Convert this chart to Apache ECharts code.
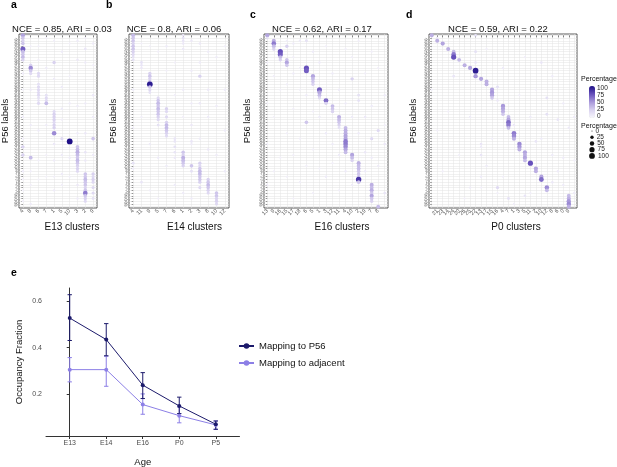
<!DOCTYPE html>
<html>
<head>
<meta charset="utf-8" />
<title>Cluster mapping to P56</title>
<script src="https://cdn.jsdelivr.net/npm/echarts@6/dist/echarts.min.js"></script>
</head>
<body style="margin:0;background:#fff">
<div id="main" style="width:617px;height:467px;"></div>
<script type="text/javascript">
// row labels (P56 clusters), shared by the four dot plots
var p56Labels = ['52','51','50','49','56','55','54','53','57','58','48','47','46','45','44','43',
  '42','41','40','39','38','37','36','35','34','33','32','31','30','29','28','27',
  '26','25','24','23','22','21','20','19','18','17','16','15','14','13','12','11',
  '10','9','8','7','6','5','4','3','2','1','59','60','61','62','63','64'];

// dots: [column, row, percentage]
var e13Clusters = ['4','8','6','7','1','5','10','3','2','9'];
var e13Dots = [
  [0,0,45],[0,1,30],[0,2,25],[0,3,30],[0,5,70],[0,6,35],[0,7,30],[0,8,35],[0,9,25],[0,41,25],[0,44,25],
  [1,11,25],[1,12,55],[1,13,30],[1,14,20],[1,45,35],
  [2,14,20],[2,15,20],[2,18,15],[2,19,20],[2,20,20],[2,21,20],[2,22,20],[2,23,15],[2,24,15],[2,25,20],
  [3,22,15],[3,23,20],[3,24,20],[3,25,35],
  [4,10,25],[4,28,20],[4,29,25],[4,30,25],[4,31,25],[4,32,20],[4,33,25],[4,34,25],[4,36,55],
  [5,38,20],[6,39,100],
  [7,41,30],[7,42,35],[7,43,40],[7,44,35],[7,45,30],[7,46,35],[7,47,30],[7,48,25],[7,49,25],[7,50,20],
  [8,51,30],[8,52,30],[8,53,35],[8,54,30],[8,55,30],[8,56,25],[8,57,30],[8,58,60],[8,59,30],[8,60,25],[8,61,20],
  [9,38,30],[9,51,25],[9,52,20],[9,53,25],[9,54,20],[9,56,20],[9,58,20],[9,60,15],
  [0,14,8],[0,20,6],[0,30,8],[0,38,6],[0,50,8],[0,53,6],[0,57,6],[0,61,6],[1,4,6],[1,20,8],[1,33,8],
  [1,50,6],[1,55,6],[1,62,8],[2,4,6],[2,9,6],[2,35,8],[2,46,6],[2,53,5],[3,1,6],[3,12,8],[3,33,8],
  [3,44,6],[3,52,5],[4,2,6],[4,16,8],[4,40,10],[4,46,8],[4,52,6],[4,57,8],[5,6,8],[5,19,8],[5,27,8],
  [5,31,6],[5,44,8],[5,51,8],[5,55,6],[6,3,6],[6,15,6],[6,25,8],[6,45,8],[6,52,6],[7,2,8],[7,9,10],
  [7,26,8],[7,36,8],[7,55,10],[7,60,8],[8,1,6],[8,5,12],[8,10,8],[8,25,8],[8,36,10],[8,43,12],
  [8,46,10],[9,3,8],[9,11,6],[9,22,10],[9,30,8],[9,44,8]
];

var e14Clusters = ['4','11','9','5','7','6','1','2','3','8','10','12'];
var e14Dots = [
  [0,0,35],[0,1,30],[0,2,30],[0,3,25],[0,4,30],[0,5,30],[0,6,25],[0,7,20],[0,8,15],[0,9,15],[0,47,15],
  [1,10,15],[1,11,12],[1,12,10],[1,54,12],
  [2,14,25],[2,15,30],[2,16,25],[2,17,30],[2,18,95],[2,19,30],[2,20,20],[2,21,15],
  [3,23,20],[3,24,30],[3,25,35],[3,26,30],[3,27,35],[3,28,30],[3,29,30],[3,30,25],[3,31,20],[3,33,15],
  [4,27,25],[4,28,20],[4,30,20],[4,32,25],[4,33,35],[4,34,35],[4,35,30],[4,36,25],[4,37,20],
  [5,38,12],[5,39,12],[5,41,15],[5,43,12],[5,45,10],
  [6,0,12],[6,1,15],[6,2,12],[6,3,10],[6,5,10],[6,43,30],[6,44,25],[6,45,40],[6,46,35],[6,47,30],[6,48,25],
  [7,39,12],[7,48,30],[7,50,15],
  [8,15,25],[8,47,25],[8,48,20],[8,49,30],[8,50,35],[8,51,35],[8,52,30],[8,53,30],[8,54,25],[8,56,20],
  [9,53,25],[9,54,30],[9,55,35],[9,56,30],[9,57,25],[9,58,20],
  [10,58,30],[10,59,30],[10,60,25],[10,61,25],[10,62,20],
  [11,20,8],[11,35,8],
  [0,20,8],[0,34,6],[0,49,8],[1,3,6],[1,30,6],[2,4,6],[2,40,8],[2,57,6],[3,6,6],[3,45,8],[3,60,6],
  [4,4,8],[4,13,6],[4,48,8],[5,10,6],[5,22,6],[5,55,8],[6,20,8],[6,30,6],[6,58,8],[7,2,10],[7,13,8],
  [7,25,8],[7,33,10],[7,40,8],[7,60,8],[8,3,10],[8,10,8],[8,25,10],[8,38,8],[9,6,8],[9,20,10],
  [9,30,8],[9,42,10],[10,8,8],[10,26,8],[10,44,8],[11,4,6],[11,50,8]
];

var e16Clusters = ['13','9','16','15','17','18','6','5','1','3','12','11','4','10','2','19','7','8','14'];
var e16Dots = [
  [0,0,45],[0,1,15],
  [1,2,40],[1,3,60],[1,4,35],[1,5,25],
  [2,6,75],[2,7,70],[2,8,35],[2,9,25],
  [3,4,25],[3,9,30],[3,10,45],[3,11,30],
  [4,3,8],[4,14,8],[5,2,8],[5,20,6],
  [6,2,15],[6,12,75],[6,13,70],[6,32,30],
  [7,15,45],[7,16,35],[7,17,30],[7,18,25],
  [8,20,70],[8,21,45],[8,22,35],[8,23,20],
  [9,24,65],[9,25,25],
  [10,26,35],[10,27,30],[10,28,25],
  [11,30,40],[11,31,35],[11,32,30],[11,33,25],[11,34,15],
  [12,34,35],[12,35,40],[12,36,40],[12,37,45],[12,38,45],[12,39,60],[12,40,60],[12,41,55],[12,42,45],[12,43,35],
  [13,16,25],[13,44,45],[13,45,35],[13,46,25],
  [14,22,15],[14,24,15],[14,47,40],[14,48,35],[14,49,35],[14,50,30],[14,51,30],[14,52,30],[14,53,85],[14,54,30],
  [15,30,10],[15,43,10],
  [16,38,20],[16,55,40],[16,56,35],[16,57,40],[16,58,30],[16,59,45],[16,60,30],[16,61,25],
  [17,35,20],[17,63,35],[18,40,10],[18,58,12],
  [0,10,6],[0,25,5],[0,40,6],[0,55,6],[1,15,6],[1,30,5],[1,50,6],[2,20,6],[2,45,6],[3,2,6],[3,18,6],
  [3,36,6],[3,52,6],[4,8,6],[4,27,6],[4,44,6],[4,60,6],[5,12,6],[5,38,6],[5,54,6],[6,22,8],[6,48,6],
  [7,6,8],[7,28,6],[7,42,6],[7,58,6],[8,10,8],[8,30,8],[8,49,6],[9,4,6],[9,36,8],[9,52,8],[10,14,8],
  [10,40,8],[10,47,6],[11,20,8],[11,44,8],[11,57,6],[12,5,6],[12,25,8],[12,50,8],[13,8,6],[13,30,8],
  [13,55,8],[14,2,6],[14,36,8],[15,14,6],[15,50,8],[16,6,6],[16,26,8],[16,45,8],[17,12,6],[17,48,8],
  [18,22,8],[18,33,6]
];

var p0Clusters = ['18','21','23','14','24','20','26','25','22','13','17','15','16','4','7','1',
  '3','5','11','2','10','12','8','6','0','9','19'];
var p0Dots = [
  [0,0,40],[1,1,10],[1,2,40],[2,3,45],[3,5,40],
  [4,6,35],[4,7,60],[4,8,75],[4,15,12],
  [5,9,35],[6,11,40],[7,12,45],
  [8,0,15],[8,6,15],[8,10,12],[8,13,95],[8,15,50],
  [9,16,45],[9,40,12],[9,44,12],
  [10,17,40],[10,18,40],
  [11,20,45],[11,21,50],[11,22,45],[11,23,30],
  [12,19,15],[12,24,10],[12,56,20],
  [13,26,50],[13,27,45],[13,28,40],[13,29,30],
  [14,30,35],[14,31,45],[14,32,65],[14,33,60],[14,34,35],[14,60,15],
  [15,33,10],[15,36,60],[15,37,55],[15,38,40],
  [16,40,55],[16,41,50],[16,42,40],
  [17,43,45],[17,44,40],[17,45,45],[17,46,35],[17,59,12],
  [18,47,75],
  [19,39,12],[19,49,45],[19,50,40],
  [20,10,12],[20,52,45],[20,53,65],
  [21,23,15],[21,29,15],[21,56,55],[21,57,35],
  [22,54,10],[23,31,12],[24,45,8],
  [25,59,35],[25,60,40],[25,61,50],[25,62,55],[25,63,40],
  [26,58,8],
  [0,20,6],[1,35,6],[2,50,6],[3,28,6],[5,44,6],[6,60,6],[7,30,8],[7,56,8],[9,41,8],[9,52,8],[9,56,6],
  [10,5,6],[10,48,8],[11,38,6],[12,58,6],[13,12,8],[13,52,6],[15,62,6],[16,22,6],[17,8,6],[18,30,8],
  [18,58,6],[19,20,6],[20,38,8],[22,15,8],[22,44,8],[23,50,8],[24,25,8],[24,55,8],[25,34,8],
  [26,30,8],[26,46,6]
];

// panel e
var ages = ['E13','E14','E16','P0','P5'];
var p56Mean = [0.528, 0.435, 0.238, 0.148, 0.069];
var p56Low  = [0.431, 0.365, 0.180, 0.115, 0.047];
var p56High = [0.629, 0.504, 0.292, 0.186, 0.083];
var adjMean = [0.305, 0.305, 0.154, 0.106, 0.066];
var adjLow  = [0.252, 0.233, 0.112, 0.075, 0.047];
var adjHigh = [0.357, 0.363, 0.200, 0.144, 0.083];
var fracTicks = [0.2, 0.4, 0.6];

// legends
var colorTicks = [0, 25, 50, 75, 100];
var sizeTicks = [0, 25, 50, 75, 100];

var FONT = 'Liberation Sans, Arial, sans-serif';
var NAVY = '#1c1a6b';
var LILAC = '#8c7fe6';
var GRIDLINE = '#e2e2e2';

function dotSize(p) { return 1 + 4.8 * Math.sqrt(p / 100); }
function range(n) { var a = []; for (var i = 0; i < n; i++) a.push(i); return a; }

var panels = [
  { cats: e13Clusters, dots: e13Dots, left: 19, width: 78, xname: 'E13 clusters', shift: 28, ygap: 8,
    title: 'NCE = 0.85, ARI = 0.03', titleX: 62, letter: 'a', lx: 11, ly: 0 },
  { cats: e14Clusters, dots: e14Dots, left: 129, width: 100, xname: 'E14 clusters', shift: 31, ygap: 11,
    title: 'NCE = 0.8, ARI = 0.06', titleX: 174, letter: 'b', lx: 106, ly: 0 },
  { cats: e16Clusters, dots: e16Dots, left: 264, width: 124, xname: 'E16 clusters', shift: 32, ygap: 12,
    title: 'NCE = 0.62, ARI = 0.17', titleX: 322, letter: 'c', lx: 250, ly: 10 },
  { cats: p0Clusters, dots: p0Dots, left: 429, width: 148, xname: 'P0 clusters', shift: 26, ygap: 11,
    title: 'NCE = 0.59, ARI = 0.22', titleX: 498, letter: 'd', lx: 406, ly: 10 }
];

var grids = [], xAxes = [], yAxes = [], series = [], titles = [];
var rows = range(p56Labels.length);

panels.forEach(function (p, i) {
  var cols = range(p.cats.length);
  grids.push({ left: p.left, top: 34, width: p.width, height: 174, show: true,
    borderColor: '#333', borderWidth: 0.8, outerBoundsMode: 'none' });
  xAxes.push({
    gridIndex: i, type: 'value', min: -0.5, max: p.cats.length - 0.5,
    axisLine: { show: false },
    axisTick: { show: true, customValues: cols, length: 2, lineStyle: { color: '#333', width: 0.6 } },
    axisLabel: { customValues: cols, formatter: function (v) { return p.cats[Math.round(v)]; },
      rotate: 45, fontSize: 5.5, color: '#4d4d4d', margin: 2 },
    splitLine: { show: true, lineStyle: { color: GRIDLINE, width: 0.5 } },
    name: p.xname, nameLocation: 'middle', nameGap: 14,
    nameTextStyle: { fontSize: 10, color: '#111', padding: [0, 0, 0, p.shift] }
  });
  yAxes.push({
    gridIndex: i, type: 'value', min: -0.5, max: p56Labels.length - 0.5, inverse: true,
    axisLine: { show: false },
    axisTick: { show: true, customValues: rows, length: 1.5, lineStyle: { color: '#333', width: 0.5 } },
    axisLabel: { customValues: rows, formatter: function (v) { return p56Labels[Math.round(v)]; },
      rotate: 45, fontSize: 3.5, color: '#555', margin: 1.5 },
    splitLine: { show: true, lineStyle: { color: GRIDLINE, width: 0.5 } },
    name: 'P56 labels', nameLocation: 'middle', nameGap: p.ygap,
    nameTextStyle: { fontSize: 9.5, color: '#111' }
  });
  series.push({
    type: 'scatter', xAxisIndex: i, yAxisIndex: i, data: p.dots,
    symbolSize: function (val) { return dotSize(val[2]); },
    itemStyle: { opacity: 1 }, silent: true
  });
  titles.push({ text: p.letter, left: p.lx, top: p.ly, padding: 0,
    textStyle: { fontSize: 10.5, fontWeight: 'bold', color: '#000', fontFamily: FONT } });
  titles.push({ text: p.title, left: p.titleX, top: 24, padding: 0, textAlign: 'center',
    textStyle: { fontSize: 9.5, fontWeight: 'normal', color: '#111', fontFamily: FONT } });
});

// panel e: grid 4
grids.push({ left: 46, top: 288, width: 193.5, height: 148, outerBoundsMode: 'none' });
xAxes.push({
  gridIndex: 4, type: 'value', min: -0.65, max: 4.65,
  axisLine: { show: true, lineStyle: { color: '#333', width: 1 } },
  axisTick: { show: true, customValues: range(ages.length), length: 3, lineStyle: { color: '#333' } },
  axisLabel: { customValues: range(ages.length), formatter: function (v) { return ages[Math.round(v)]; },
    fontSize: 7, color: '#4d4d4d', margin: 4 },
  splitLine: { show: false },
  name: 'Age', nameLocation: 'middle', nameGap: 21, nameTextStyle: { fontSize: 9.5, color: '#111' }
});
yAxes.push({
  gridIndex: 4, type: 'value', min: 0.018, max: 0.658,
  axisLine: { show: true, lineStyle: { color: '#333', width: 1 } },
  axisTick: { show: true, customValues: fracTicks, length: 3, lineStyle: { color: '#333' } },
  axisLabel: { customValues: fracTicks, formatter: function (v) { return v.toFixed(1); },
    fontSize: 7, color: '#4d4d4d', margin: 4 },
  splitLine: { show: false },
  name: 'Occupancy Fraction', nameLocation: 'middle', nameGap: 22,
  nameTextStyle: { fontSize: 9.5, color: '#111' }
});

function errorBars(name, low, high, color) {
  return {
    type: 'custom', name: name, xAxisIndex: 4, yAxisIndex: 4, silent: true,
    data: ages.map(function (a, i) { return [i, low[i], high[i]]; }),
    encode: { x: 0, y: [1, 2] },
    renderItem: function (params, api) {
      var x = api.value(0);
      var pLo = api.coord([x, api.value(1)]);
      var pHi = api.coord([x, api.value(2)]);
      var w = api.size([0.06, 0])[0];
      var st = { stroke: color, lineWidth: 1 };
      return { type: 'group', children: [
        { type: 'line', shape: { x1: pLo[0], y1: pLo[1], x2: pHi[0], y2: pHi[1] }, style: st },
        { type: 'line', shape: { x1: pLo[0] - w, y1: pLo[1], x2: pLo[0] + w, y2: pLo[1] }, style: st },
        { type: 'line', shape: { x1: pHi[0] - w, y1: pHi[1], x2: pHi[0] + w, y2: pHi[1] }, style: st }
      ] };
    }
  };
}

series.push(errorBars('errAdj', adjLow, adjHigh, LILAC));
series.push(errorBars('errP56', p56Low, p56High, NAVY));
series.push({
  name: 'Mapping to adjacent', type: 'line', xAxisIndex: 4, yAxisIndex: 4,
  data: ages.map(function (a, i) { return [i, adjMean[i]]; }),
  symbol: 'circle', symbolSize: 4, lineStyle: { width: 1, color: LILAC }, itemStyle: { color: LILAC }
});
series.push({
  name: 'Mapping to P56', type: 'line', xAxisIndex: 4, yAxisIndex: 4,
  data: ages.map(function (a, i) { return [i, p56Mean[i]]; }),
  symbol: 'circle', symbolSize: 4, lineStyle: { width: 1, color: NAVY }, itemStyle: { color: NAVY }
});
titles.push({ text: 'e', left: 11, top: 268, padding: 0,
  textStyle: { fontSize: 10.5, fontWeight: 'bold', color: '#000', fontFamily: FONT } });

// size legend: grid 5, labels carried by the key dots themselves
grids.push({ left: 588, top: 128, width: 8, height: 31, outerBoundsMode: 'none' });
xAxes.push({ gridIndex: 5, type: 'value', min: 0, max: 1, show: false });
yAxes.push({ gridIndex: 5, type: 'value', min: -0.5, max: sizeTicks.length - 0.5, inverse: true, show: false });
series.push({
  type: 'scatter', xAxisIndex: 5, yAxisIndex: 5, silent: true,
  data: sizeTicks.map(function (v, i) { return [0.5, i, v]; }),
  symbolSize: function (val) { return dotSize(val[2]); },
  itemStyle: { color: '#111', opacity: 1 },
  label: { show: true, position: 'right', distance: 3,
    formatter: function (p) { return String(p.value[2]); },
    fontSize: 6.5, color: '#222', lineHeight: 6 },
  labelLayout: { hideOverlap: false }
});

// colour legend labels: grid 6
grids.push({ left: 589, top: 88.5, width: 6, height: 28, outerBoundsMode: 'none' });
xAxes.push({ gridIndex: 6, type: 'value', min: 0, max: 1, show: false });
yAxes.push({
  gridIndex: 6, type: 'value', min: 0, max: 100, position: 'right',
  axisLine: { show: false }, axisTick: { show: false }, splitLine: { show: false },
  axisLabel: { customValues: colorTicks, showMinLabel: true, showMaxLabel: true,
    fontSize: 6.5, lineHeight: 5.5, color: '#222', margin: 2 }
});
series.push({ type: 'scatter', xAxisIndex: 6, yAxisIndex: 6, data: [], silent: true });

titles.push({ text: 'Percentage', left: 581, top: 76, padding: 0,
  textStyle: { fontSize: 7, fontWeight: 'normal', color: '#111', fontFamily: FONT } });
titles.push({ text: 'Percentage', left: 581, top: 123, padding: 0,
  textStyle: { fontSize: 7, fontWeight: 'normal', color: '#111', fontFamily: FONT } });

var option = {
  animation: false,
  backgroundColor: '#fff',
  textStyle: { fontFamily: FONT },
  title: titles,
  grid: grids,
  xAxis: xAxes,
  yAxis: yAxes,
  visualMap: {
    type: 'continuous', min: 0, max: 100, dimension: 2, seriesIndex: [0, 1, 2, 3],
    inRange: { color: ['#f8f7fc', '#d9d2ef', '#a898da', '#6650bb', '#1e0f86'] },
    left: 589, top: 86, itemWidth: 6, itemHeight: 32, padding: 0,
    calculable: false, hoverLink: false, realtime: false
  },
  legend: {
    data: ['Mapping to P56', 'Mapping to adjacent'],
    left: 238, top: 341, orient: 'vertical', itemWidth: 15, itemHeight: 7, itemGap: 7,
    padding: 0, selectedMode: false,
    textStyle: { fontSize: 9.5, color: '#111' }
  },
  series: series
};

var myChart = echarts.init(document.getElementById('main'));
myChart.setOption(option);
</script>
</body>
</html>
